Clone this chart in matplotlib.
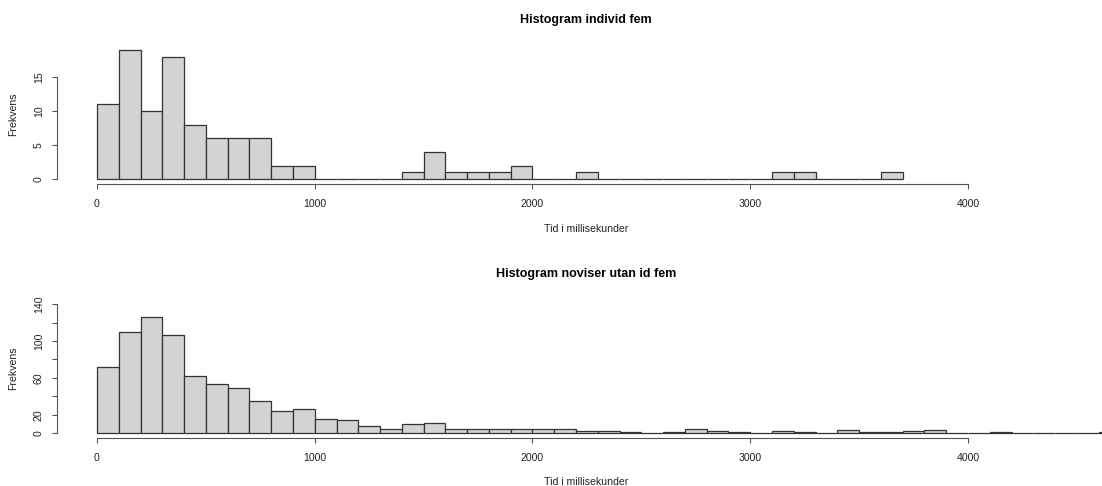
import matplotlib
matplotlib.use("Agg")
import matplotlib.pyplot as plt
import numpy as np

plt.rcParams["font.family"] = ["Liberation Sans", "DejaVu Sans"]

BIN_WIDTH = 100  # ms per bin

# counts per 100 ms bin, starting at 0
top_counts = [11, 19, 10, 18, 8, 6, 6, 6, 2, 2,
              0, 0, 0, 0, 1, 4, 1, 1, 1, 2,
              0, 0, 1, 0, 0, 0, 0, 0, 0, 0,
              0, 1, 1, 0, 0, 0, 1]
bottom_counts = [72, 110, 126, 107, 62, 53, 49, 35, 24, 26,
                 15, 14, 8, 5, 10, 11, 5, 5, 5, 5,
                 4, 4, 2, 2, 1, 0, 1, 4, 2, 1,
                 0, 2, 1, 0, 3, 1, 1, 2, 3, 0,
                 0, 1, 0, 0, 0, 0, 1]

top_title = "Histogram individ fem"
bottom_title = "Histogram noviser utan id fem"
xlabel = "Tid i millisekunder"
ylabel = "Frekvens"
xticks = [0, 1000, 2000, 3000, 4000]
top_yticks = [0, 5, 10, 15]
bottom_yticks = [0, 20, 40, 60, 80, 100, 120, 140]
bottom_yticklabels = ["0", "20", "", "60", "", "100", "", "140"]

W, H = 1102, 486
FILL = "#d3d3d3"
EDGE = "#333333"
AXC = "#555555"
FS = 7.6

fig = plt.figure(figsize=(W / 100, H / 100), dpi=100)


def panel(top_px, counts, ymax, yticks, yticklabels, title, title_px, xlab_px):
    ax = fig.add_axes([57.3 / W, (H - top_px - 139.3) / H, 1 - 57.3 / W, 139.3 / H])
    edges = np.arange(len(counts)) * BIN_WIDTH
    ax.bar(edges, counts, width=BIN_WIDTH, align="edge", color=FILL,
           edgecolor=EDGE, linewidth=0.9)
    ax.set_xlim(-182.3, (W - 97) / 0.21775)
    ax.set_ylim(-0.04 * ymax, 1.04 * ymax)
    for s in ("top", "right"):
        ax.spines[s].set_visible(False)
    for s in ("left", "bottom"):
        ax.spines[s].set_color(AXC)
        ax.spines[s].set_linewidth(0.8)
    ax.spines["bottom"].set_bounds(xticks[0], xticks[-1])
    ax.spines["left"].set_bounds(yticks[0], yticks[-1])
    ax.set_xticks(xticks)
    ax.set_xticklabels([str(t) for t in xticks])
    ax.set_yticks(yticks)
    ax.set_yticklabels(yticklabels)
    ax.tick_params(axis="both", length=3.6, width=0.8, color=AXC,
                   labelsize=FS, labelcolor="#222222")
    ax.tick_params(axis="x", pad=7)
    ax.tick_params(axis="y", pad=6)
    for lab in ax.get_yticklabels():
        lab.set_rotation(90)
        lab.set_va("center")
    fig.text(586 / W, 1 - title_px / H, title, ha="center", va="center",
             fontsize=9, fontweight="bold")
    fig.text(586 / W, 1 - xlab_px / H, xlabel, ha="center", va="center",
             fontsize=FS, color="#222222")
    fig.text(13 / W, 1 - (top_px + 69) / H, ylabel, ha="center", va="center",
             rotation=90, fontsize=FS, color="#222222")
    return ax


panel(45.0, top_counts, 19, top_yticks, [str(t) for t in top_yticks],
      top_title, 20, 229)
panel(299.0, bottom_counts, 140, bottom_yticks, bottom_yticklabels,
      bottom_title, 274, 482)

fig.savefig("out.png", dpi=100)
